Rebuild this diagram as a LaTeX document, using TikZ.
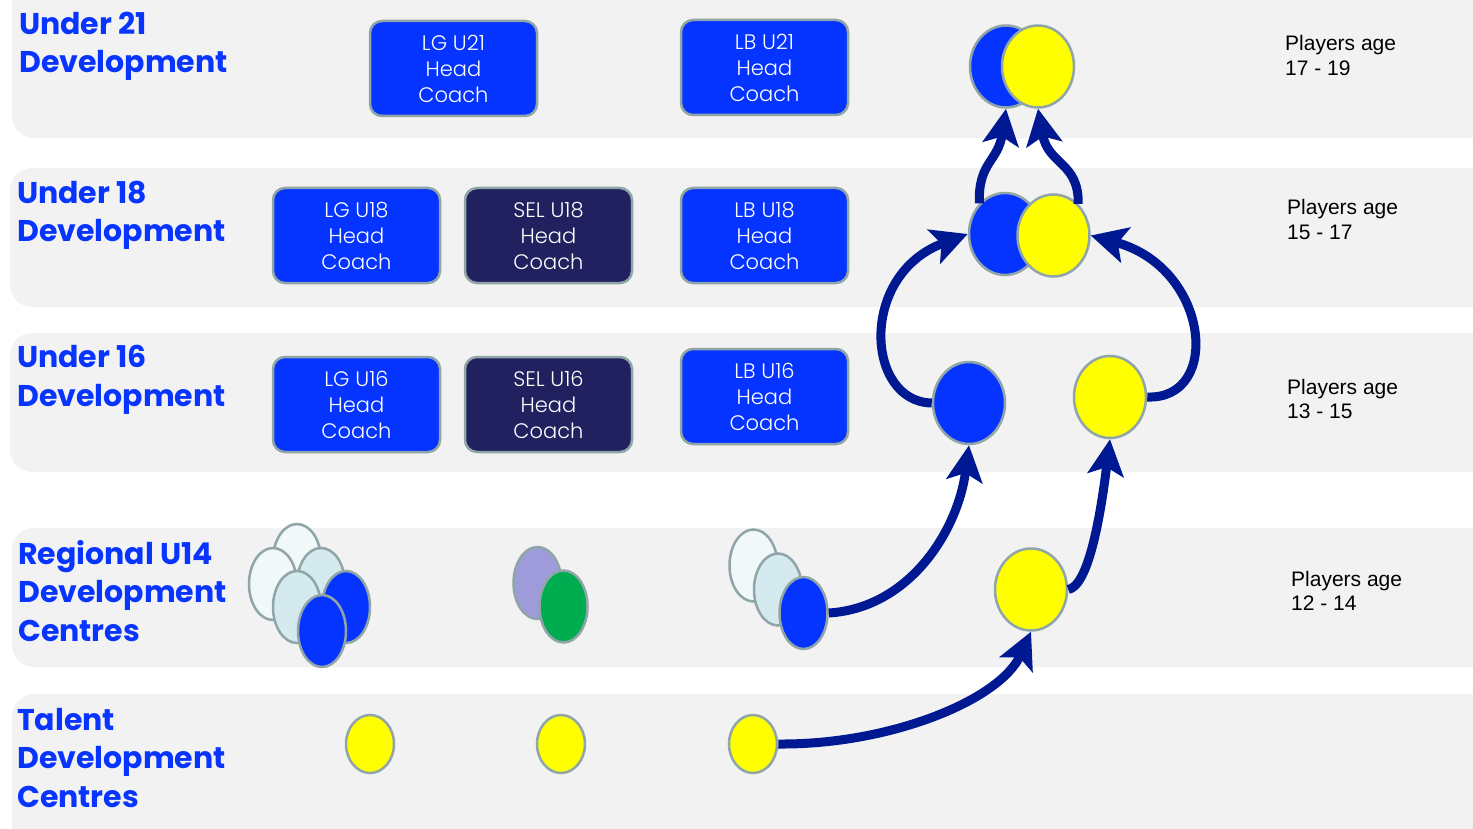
\documentclass[tikz,border=0pt]{standalone}
\usepackage{fontspec}
\setmainfont{Poppins}
\newfontfamily\boxfont{Poppins Light}
\newfontfamily\agefont{Liberation Sans}
\usetikzlibrary{shapes.geometric,arrows.meta}
\definecolor{bandgray}{RGB}{242,242,242}
\definecolor{titleblue}{RGB}{8,52,255}
\definecolor{boxblue}{RGB}{5,51,255}
\definecolor{boxnavy}{RGB}{34,33,96}
\definecolor{edgegray}{RGB}{143,165,168}
\definecolor{arrowblue}{RGB}{0,24,145}
\definecolor{yel}{RGB}{255,255,0}
\definecolor{pale}{RGB}{240,248,248}
\definecolor{lightb}{RGB}{213,234,238}
\definecolor{purp}{RGB}{158,155,218}
\definecolor{grn}{RGB}{0,172,80}
\tikzset{
 band/.style={fill=bandgray, rounded corners=22pt},
 title/.style={font=\fontsize{30}{38.5}\selectfont\bfseries, text=titleblue, align=left, anchor=base west, inner sep=0pt},
 coach/.style={draw=edgegray, line width=2.5pt, rounded corners=12pt, minimum width=167pt, minimum height=95pt, text=white, align=center, font=\boxfont\fontsize{21}{26}\selectfont, inner sep=0pt, fill=boxblue},
 navybox/.style={coach, fill=boxnavy},
 egg/.style={ellipse, draw=edgegray, line width=2.5pt, inner sep=0pt},
 big/.style={egg, minimum width=72pt, minimum height=82pt},
 small/.style={egg, minimum width=48pt, minimum height=72pt},
 dot/.style={egg, minimum width=48pt, minimum height=58pt, fill=yel},
 flow/.style={draw=arrowblue, line width=9pt, -{Stealth[length=36pt,width=36pt,inset=8pt]}},
 age/.style={font=\agefont\fontsize{21}{24.5}\selectfont, align=left, anchor=base west, inner sep=0pt},
}
\begin{document}
\begin{tikzpicture}[x=1pt,y=-1pt]
\useasboundingbox (0,0) rectangle (1473,829);
\clip (0,0) rectangle (1473,829);
% bands
\fill[band] (12,-40) rectangle (1520,138);
\fill[band] (10,168) rectangle (1520,307);
\fill[band] (10,333) rectangle (1520,472);
\fill[band] (12,528) rectangle (1520,667);
\fill[band] (12,694) rectangle (1520,870);
% titles (anchor = baseline of last line)
\node[title] (t21) at (19,73) {Under 21\\Development};
\node[title] (t18) at (17,242) {Under 18\\Development};
\node[title] (t16) at (17,406) {Under 16\\Development};
\node[title] (t14) at (18,641) {Regional U14\\Development\\Centres};
\node[title] (ttd) at (17,807) {Talent\\Development\\Centres};
% ages
\node[age] (a21) at (1285,75.5) {Players age\\17 - 19};
\node[age] (a18) at (1287,239.5) {Players age\\15 - 17};
\node[age] (a16) at (1287,418.5) {Players age\\13 - 15};
\node[age] (a14) at (1291,610.5) {Players age\\12 - 14};
% coach boxes
\node[coach] (lg21) at (453.5,68.5) {LG U21\\Head\\Coach};
\node[coach] (lb21) at (764.5,67.5) {LB U21\\Head\\Coach};
\node[coach] (lg18) at (356.5,235.5) {LG U18\\Head\\Coach};
\node[navybox] (sel18) at (548.5,235.5) {SEL U18\\Head\\Coach};
\node[coach] (lb18) at (764.5,235.5) {LB U18\\Head\\Coach};
\node[coach] (lg16) at (356.5,404.5) {LG U16\\Head\\Coach};
\node[navybox] (sel16) at (548.5,404.5) {SEL U16\\Head\\Coach};
\node[coach] (lb16) at (764.5,396.5) {LB U16\\Head\\Coach};
% U21 pair
\node[big, fill=boxblue] (b21) at (1006,66.5) {};
\node[big, fill=yel] (y21) at (1038,66.5) {};
% U18 pair
\node[big, fill=boxblue] (b18) at (1005,234) {};
\node[big, fill=yel] (y18) at (1053.5,235.5) {};
% U16
\node[big, fill=boxblue] (b16) at (969,403) {};
\node[big, fill=yel] (y16) at (1110,397) {};
% U14 yellow
\node[big, fill=yel] (y14) at (1031,589.5) {};
% left cluster
\node[small, fill=pale] (la) at (297,560) {};
\node[small, fill=pale] (lb) at (273,584) {};
\node[small, fill=lightb] (lc) at (321,584) {};
\node[small, fill=lightb] (ld) at (297,607) {};
\node[small, fill=boxblue] (le) at (346,607) {};
\node[small, fill=boxblue] (lf) at (322,631) {};
% middle pair
\node[small, fill=purp] (ma) at (537.5,583) {};
\node[small, fill=grn] (mb) at (563.5,606.5) {};
% right group
\node[small, fill=pale] (ra) at (753.5,565.5) {};
\node[small, fill=lightb] (rb) at (778,589.5) {};
\node[small, fill=boxblue] (rc) at (803.5,613) {};
% talent dots
\node[dot] (d1) at (370,744) {};
\node[dot] (d2) at (561,744) {};
\node[dot] (d3) at (753,744) {};
% arrows
\draw[flow] (d3.east) .. controls (890,745) and (1000,700) .. (y14.south);
\draw[flow] (y14.east) .. controls (1088,586) and (1100,520) .. (y16.south);
\draw[flow] (rc.east) .. controls (910,608) and (958,530) .. (b16.south);
\draw[flow] (b16.west) .. controls (866,402) and (858,275) .. (b18.west);
\draw[flow] (y16.east) .. controls (1222,400) and (1210,268) .. (y18.east);
\draw[flow] (b18.130) .. controls (978,162) and (998,162) .. (b21.south);
\draw[flow] (y18.52) .. controls (1079,162) and (1048,165) .. (y21.south);
\end{tikzpicture}
\end{document}
